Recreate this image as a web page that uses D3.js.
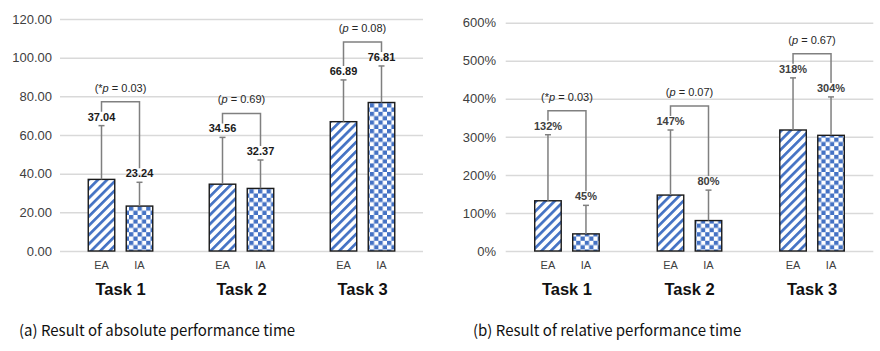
<!DOCTYPE html>
<html>
<head>
<meta charset="utf-8">
<script src="https://cdn.jsdelivr.net/npm/d3@7"></script>
<style>
  body { margin: 0; background: #fff; }
  svg text { font-family: "Liberation Sans", Arial, sans-serif; }
  svg text.caption { font-family: "Noto Sans CJK KR", "Noto Sans", sans-serif; }
</style>
</head>
<body>
<div id="chart"></div>
<script>
// ---- data ----
const tasks = ["Task 1", "Task 2", "Task 3"];
const groups = ["EA", "IA"];

const absMeanEA = [37.04, 34.56, 66.89];
const absMeanIA = [23.24, 32.37, 76.81];
const absSdEA = [27.8, 24.2, 21.6];
const absSdIA = [12.3, 14.7, 18.9];
const absP = [0.03, 0.69, 0.08];
const absTicks = [0, 20, 40, 60, 80, 100, 120];

const relMeanEA = [132, 147, 318];
const relMeanIA = [45, 80, 304];
const relSdEA = [173.6, 171, 137];
const relSdIA = [75, 80, 101];
const relP = [0.03, 0.07, 0.67];
const relTicks = [0, 100, 200, 300, 400, 500, 600];

const captions = ["(a) Result of absolute performance time", "(b) Result of relative performance time"];

const blue = "#4472C4";

const svg = d3.select("#chart").append("svg")
    .attr("width", 880)
    .attr("height", 351);

// patterns
const defs = svg.append("defs");
const stripes = defs.append("pattern")
    .attr("id", "stripes")
    .attr("patternUnits", "userSpaceOnUse")
    .attr("width", 6.5).attr("height", 6.5)
    .attr("patternTransform", "rotate(45)");
stripes.append("rect").attr("width", 6.5).attr("height", 6.5).attr("fill", "#fff");
stripes.append("rect").attr("width", 2.7).attr("height", 6.5).attr("fill", blue);

const checks = defs.append("pattern")
    .attr("id", "checks")
    .attr("patternUnits", "userSpaceOnUse")
    .attr("width", 8.6).attr("height", 8.6);
checks.append("rect").attr("width", 8.6).attr("height", 8.6).attr("fill", "#fff");
checks.append("rect").attr("width", 4.3).attr("height", 4.3).attr("fill", blue);
checks.append("rect").attr("x", 4.3).attr("y", 4.3).attr("width", 4.3).attr("height", 4.3).attr("fill", blue);

function drawPanel(opt) {
    let g = svg.append("g");

    let x = d3.scaleBand().domain(tasks).range([opt.left, opt.right]);
    let xg = d3.scalePoint().domain(groups).range([-19, 19]);
    let y = d3.scaleLinear().domain([0, opt.max]).range([251, opt.top]);

    // grid + tick labels
    let yAxis = d3.axisLeft(y)
        .tickValues(opt.ticks)
        .tickSize(-(opt.right - opt.left))
        .tickFormat(opt.tickFmt)
        .tickPadding(8);
    let ax = g.append("g")
        .attr("transform", `translate(${opt.left},0)`)
        .call(yAxis);
    ax.select(".domain").remove();
    ax.selectAll(".tick line").attr("stroke", "#d9d9d9").attr("stroke-width", 1.5);
    ax.selectAll(".tick text")
        .attr("x", opt.labelX - opt.left)
        .attr("fill", "#404040")
        .style("font-size", "13px");

    let rows = [];
    tasks.forEach((t, i) => {
        rows.push({task: t, grp: "EA", mean: opt.ea[i], sd: opt.sdEa[i]});
        rows.push({task: t, grp: "IA", mean: opt.ia[i], sd: opt.sdIa[i]});
    });
    let cx = d => x(d.task) + x.bandwidth() / 2 + xg(d.grp);
    let barW = 26.5;

    g.selectAll(".bar")
        .data(rows)
        .enter()
        .append("rect")
        .attr("class", "bar")
        .attr("x", d => cx(d) - barW / 2)
        .attr("y", d => y(d.mean))
        .attr("width", barW)
        .attr("height", d => y(0) - y(d.mean))
        .attr("fill", d => d.grp === "EA" ? "url(#stripes)" : "url(#checks)")
        .attr("stroke", "#1a1a1a")
        .attr("stroke-width", 1.4);

    // error bars
    g.selectAll(".err")
        .data(rows)
        .enter()
        .append("line")
        .attr("x1", cx).attr("x2", cx)
        .attr("y1", d => y(d.mean))
        .attr("y2", d => y(d.mean + d.sd))
        .attr("stroke", "#7f7f7f")
        .attr("stroke-width", 1.5);
    g.selectAll(".cap")
        .data(rows)
        .enter()
        .append("line")
        .attr("x1", d => cx(d) - 3).attr("x2", d => cx(d) + 3)
        .attr("y1", d => y(d.mean + d.sd))
        .attr("y2", d => y(d.mean + d.sd))
        .attr("stroke", "#7f7f7f")
        .attr("stroke-width", 1.5);

    // value labels
    g.selectAll(".val")
        .data(rows)
        .enter()
        .append("text")
        .attr("x", cx)
        .attr("y", d => y(d.mean + d.sd) - 5)
        .attr("text-anchor", "middle")
        .attr("fill", opt.valColor)
        .style("font-size", "11px")
        .style("font-weight", "bold")
        .text(d => opt.valFmt(d.mean));

    // brackets with p values
    tasks.forEach((t, i) => {
        let a = rows[i * 2], b = rows[i * 2 + 1];
        let topA = y(a.mean + a.sd), topB = y(b.mean + b.sd);
        let by = Math.min(topA, topB) - 24;
        let xa = cx(a), xb = cx(b);
        g.append("path")
            .attr("d", `M${xa},${topA - 14}V${by}H${xb}V${topB - 14}`)
            .attr("fill", "none")
            .attr("stroke", "#808080")
            .attr("stroke-width", 1.5);
        let pt = g.append("text")
            .attr("x", (xa + xb) / 2)
            .attr("y", by - 10)
            .attr("text-anchor", "middle")
            .attr("fill", "#262626")
            .style("font-size", "11px");
        pt.append("tspan").text(opt.p[i] < 0.05 ? "(*" : "(");
        pt.append("tspan").style("font-style", "italic").text("p");
        pt.append("tspan").text(" = " + opt.p[i].toFixed(2) + ")");
    });

    // group labels
    g.selectAll(".grp")
        .data(rows)
        .enter()
        .append("text")
        .attr("x", cx)
        .attr("y", 269)
        .attr("text-anchor", "middle")
        .attr("fill", "#404040")
        .style("font-size", "11px")
        .text(d => d.grp);

    g.selectAll(".task")
        .data(tasks)
        .enter()
        .append("text")
        .attr("x", d => x(d) + x.bandwidth() / 2)
        .attr("y", 295)
        .attr("text-anchor", "middle")
        .attr("fill", "#111")
        .style("font-size", "16.5px")
        .style("font-weight", "bold")
        .text(d => d);

    g.append("text")
        .attr("class", "caption")
        .attr("x", opt.capX)
        .attr("y", 336)
        .attr("fill", "#111")
        .style("font-size", "15px")
        .text(opt.caption);
}

drawPanel({
    left: 60, right: 423, top: 19, max: 120, labelX: 52,
    ticks: absTicks, tickFmt: d3.format(".2f"),
    ea: absMeanEA, ia: absMeanIA, sdEa: absSdEA, sdIa: absSdIA, p: absP,
    valFmt: d3.format(".2f"), valColor: "#1a1a1a",
    caption: captions[0], capX: 19
});

drawPanel({
    left: 505.7, right: 873.3, top: 22.7, max: 600, labelX: 496,
    ticks: relTicks, tickFmt: d => d + "%",
    ea: relMeanEA, ia: relMeanIA, sdEa: relSdEA, sdIa: relSdIA, p: relP,
    valFmt: d => d + "%", valColor: "#404040",
    caption: captions[1], capX: 473
});
</script>
</body>
</html>
